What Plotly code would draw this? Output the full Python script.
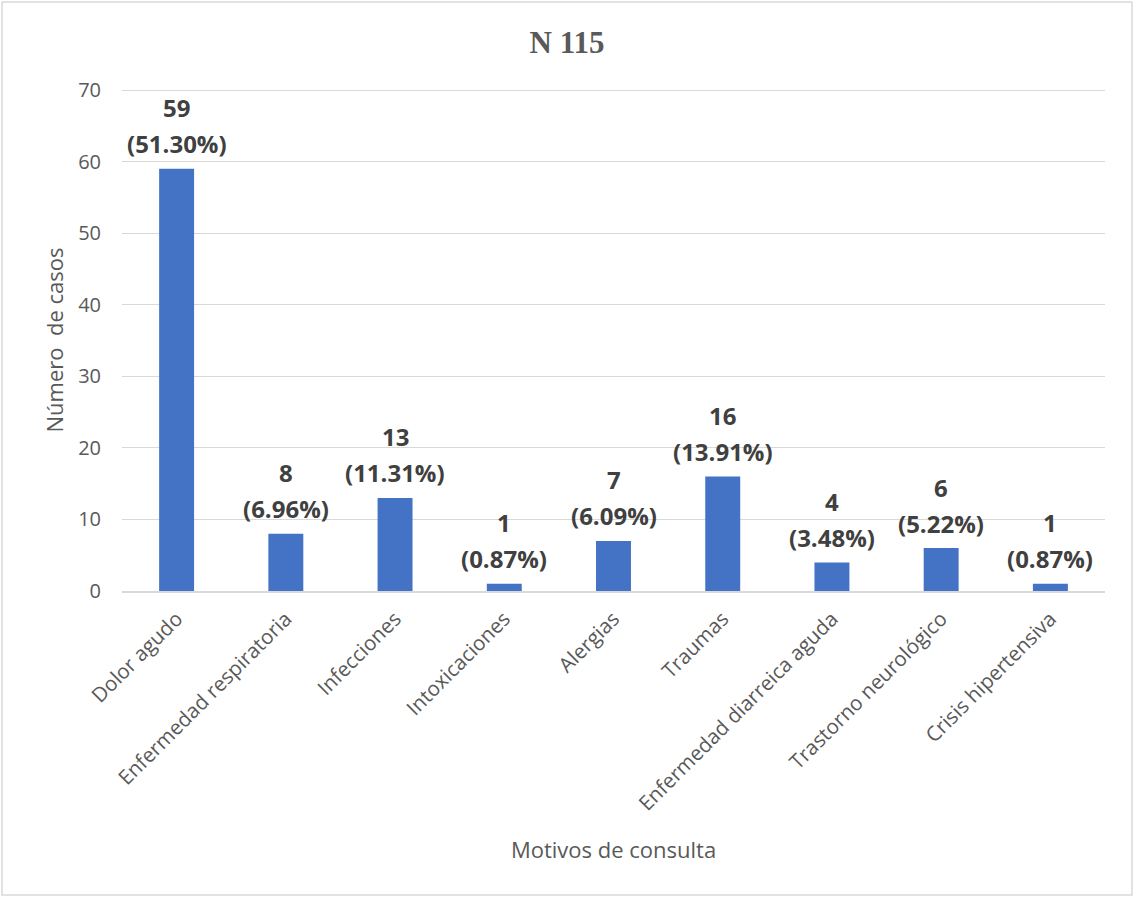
import plotly.graph_objects as go

# Motivos de consulta y número de casos (N = 115)
motivos = [
    "Dolor agudo",
    "Enfermedad respiratoria",
    "Infecciones",
    "Intoxicaciones",
    "Alergias",
    "Traumas",
    "Enfermedad diarreica aguda",
    "Trastorno neurológico",
    "Crisis hipertensiva",
]
casos = [59, 8, 13, 1, 7, 16, 4, 6, 1]
porcentajes = ["51.30%", "6.96%", "11.31%", "0.87%", "6.09%", "13.91%", "3.48%", "5.22%", "0.87%"]
y_ticks = [0, 10, 20, 30, 40, 50, 60, 70]

FONT = "Open Sans"
GRIS = "#595959"
ETIQ = "#404040"

fig = go.Figure(
    go.Bar(
        x=motivos,
        y=casos,
        marker=dict(color="#4472C4", line=dict(width=0)),
        hoverinfo="x+y",
    )
)

# Etiquetas de datos: casos y porcentaje encima de cada barra
anotaciones = []
for m, c, p in zip(motivos, casos, porcentajes):
    anotaciones.append(dict(
        x=m, y=c, xref="x", yref="y", text=f"<b>({p})</b>", showarrow=False,
        yanchor="middle", yshift=25,
        font=dict(family=FONT, size=24, color=ETIQ),
    ))
    anotaciones.append(dict(
        x=m, y=c, xref="x", yref="y", text=f"<b>{c}</b>", showarrow=False,
        yanchor="middle", yshift=61,
        font=dict(family=FONT, size=24, color=ETIQ),
    ))

fig.update_layout(
    width=1134,
    height=897,
    margin=dict(l=122, r=29, t=89, b=306),
    paper_bgcolor="white",
    plot_bgcolor="white",
    showlegend=False,
    bargap=0.68,
    annotations=anotaciones,
    title=dict(
        text="<b>N 115</b>",
        x=0.5,
        xanchor="center",
        y=0.953,
        yanchor="middle",
        font=dict(family="Liberation Serif", size=31, color=GRIS),
    ),
    xaxis=dict(
        tickangle=-45,
        tickfont=dict(family=FONT, size=20.5, color=GRIS),
        showgrid=False,
        showline=True,
        linecolor="#D9D9D9",
        linewidth=1.5,
        ticks="",
        ticklabelstandoff=6,
        title=dict(
            text="Motivos de consulta",
            font=dict(family=FONT, size=22, color=GRIS),
            standoff=27,
        ),
    ),
    yaxis=dict(
        range=[0, 70.15],
        tickvals=y_ticks,
        tickfont=dict(family=FONT, size=20, color=GRIS),
        showgrid=True,
        gridcolor="#D9D9D9",
        gridwidth=1.2,
        zeroline=False,
        showline=False,
        ticks="",
        ticklabelstandoff=20,
        title=dict(
            text="Número\u00a0 de casos",
            font=dict(family=FONT, size=22, color=GRIS),
            standoff=8,
        ),
    ),
    shapes=[
        dict(
            type="rect",
            xref="paper",
            yref="paper",
            x0=-120 / 983,
            x1=1 + 27 / 983,
            y0=-304 / 502,
            y1=1 + 87 / 502,
            line=dict(color="#D9D9D9", width=1.5),
            fillcolor="rgba(0,0,0,0)",
            layer="below",
        )
    ],
)

fig.write_html("out.html")
